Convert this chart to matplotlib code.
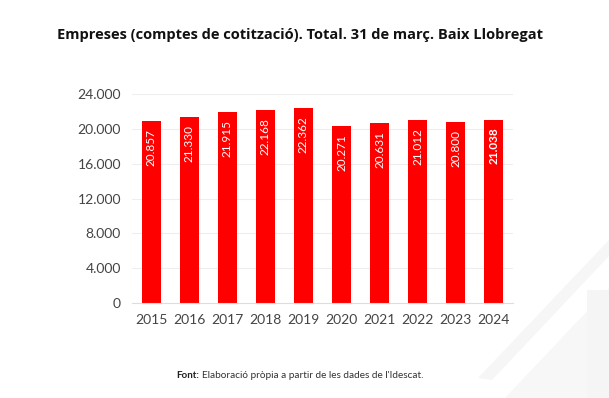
import matplotlib.pyplot as plt
from matplotlib.patches import Polygon

years = ["2015", "2016", "2017", "2018", "2019", "2020", "2021", "2022", "2023", "2024"]
empreses = [20857, 21330, 21915, 22168, 22362, 20271, 20631, 21012, 20800, 21038]
yticks = [0, 4000, 8000, 12000, 16000, 20000, 24000]


def fmt(v):
    return f"{v:,}".replace(",", ".")


plt.rcParams['font.family'] = ['Lato', 'DejaVu Sans']

fig = plt.figure(figsize=(6.09, 3.98), dpi=100)

# faint decorative shapes bottom-right
W, H = 609, 398
for pts, col in [
    ([(478, 378), (609, 240), (609, 256), (492, 380)], "#f6f6f6"),
    ([(505, 398), (609, 288), (609, 398)], "#f7f7f7"),
    ([(587, 290), (609, 290), (609, 398), (587, 398)], "#f5f5f5"),
]:
    fig.patches.append(Polygon([(x / W, 1 - y / H) for x, y in pts], closed=True,
                               transform=fig.transFigure, facecolor=col,
                               edgecolor="none", zorder=0))

ax = fig.add_axes([132 / W, 1 - 303 / H, (513 - 132) / W, (303 - 94) / H])
ax.set_facecolor("none")
x = range(len(years))
ax.bar(x, empreses, width=0.5, color="#ff0000", zorder=2)

for i, v in enumerate(empreses):
    bold = i == len(empreses) - 1
    ax.text(i, v - 900, fmt(v), rotation=90, ha="center", va="top",
            color="white", fontsize=8.5, fontweight="bold" if bold else "normal")

ax.set_xlim(-0.5, 9.5)
ax.set_ylim(0, 24000)
ax.set_yticks(yticks)
ax.set_yticklabels([fmt(t) for t in yticks])
ax.set_xticks(list(x))
ax.set_xticklabels(years)
ax.tick_params(length=0, labelsize=10, labelcolor="#444444", pad=8)
ax.grid(axis="y", color="#eeeeee", linewidth=0.8, zorder=0)
for s in ["top", "right", "left"]:
    ax.spines[s].set_visible(False)
ax.spines["bottom"].set_color("#dddddd")

fig.text(300 / W, 1 - 35 / H, "Empreses (comptes de cotització). Total. 31 de març. Baix Llobregat",
         ha="center", va="center", fontsize=10.5, fontweight="bold", color="#111111",
         family=["Open Sans", "DejaVu Sans"])

fig.text(176 / W, 1 - 375 / H, "Font:", ha="left", va="center", fontsize=7,
         fontweight="bold", color="#222222")
fig.text(202 / W, 1 - 375 / H, "Elaboració pròpia a partir de les dades de l'Idescat.",
         ha="left", va="center", fontsize=7.2, color="#333333")

fig.savefig("out.png", dpi=100)
